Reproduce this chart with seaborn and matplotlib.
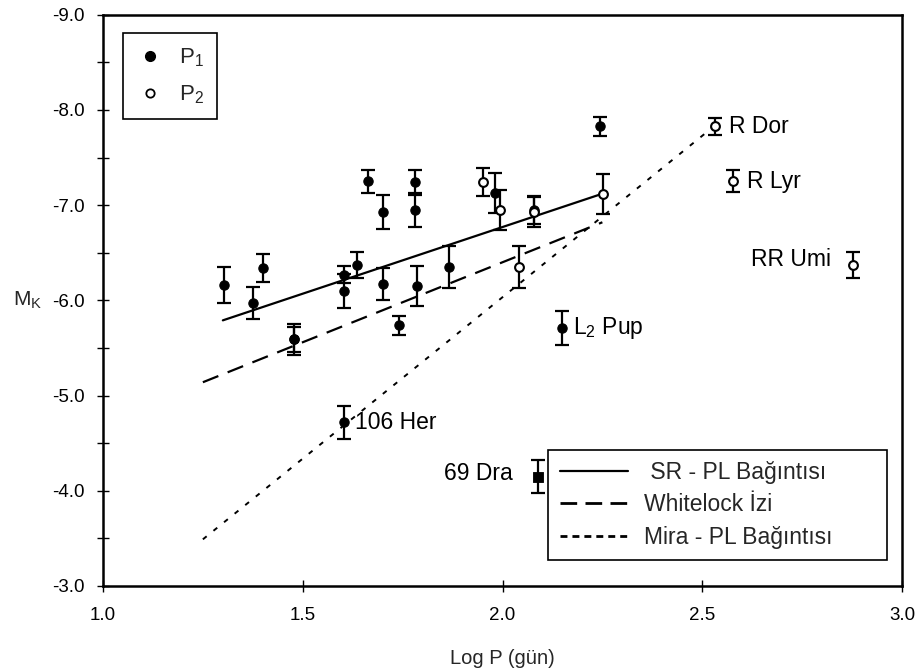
import matplotlib
matplotlib.use("Agg")
import matplotlib.pyplot as plt
from matplotlib.lines import Line2D
import seaborn as sns
import pandas as pd

# ---- data ----
p1_logp = [1.303, 1.375, 1.400, 1.478, 1.478, 1.603, 1.603, 1.637, 1.664, 1.700,
           1.700, 1.741, 1.780, 1.780, 1.787, 1.867, 1.980, 2.080, 2.244, 1.603, 2.148]
p1_mk = [-6.16, -5.97, -6.34, -5.59, -5.59, -6.27, -6.10, -6.37, -7.25, -6.93,
         -6.17, -5.74, -7.24, -6.95, -6.15, -6.35, -7.13, -6.95, -7.83, -4.72, -5.71]
p1_err = [0.19, 0.17, 0.15, 0.16, 0.13, 0.09, 0.18, 0.14, 0.12, 0.18,
          0.17, 0.10, 0.13, 0.18, 0.21, 0.22, 0.21, 0.15, 0.10, 0.175, 0.175]

p2_logp = [1.952, 1.994, 2.080, 2.042, 2.251, 2.532, 2.578, 2.878]
p2_mk = [-7.24, -6.95, -6.93, -6.35, -7.12, -7.83, -7.25, -6.37]
p2_err = [0.145, 0.21, 0.16, 0.22, 0.21, 0.09, 0.115, 0.135]

dra_logp = [2.089]
dra_mk = [-4.15]
dra_err = [0.175]

sr_x = [1.30, 2.25]
sr_y = [-5.79, -7.12]
wl_x = [1.25, 2.25]
wl_y = [-5.14, -6.82]
mira_x = [1.25, 2.53]
mira_y = [-3.49, -7.83]

star_names = ["R Dor", "R Lyr", "RR Umi", "L$_2$ Pup", "106 Her", "69 Dra"]
star_x = [2.532, 2.578, 2.878, 2.148, 1.603, 2.089]
star_y = [-7.83, -7.25, -6.37, -5.71, -4.72, -4.15]

line_labels = [" SR - PL Bağıntısı", "Whitelock İzi", "Mira - PL Bağıntısı"]

# ---- style ----
sns.set_theme(style="ticks")
plt.rcParams["font.family"] = ["Liberation Sans", "DejaVu Sans"]
plt.rcParams["mathtext.fontset"] = "custom"
plt.rcParams["mathtext.rm"] = "Liberation Sans"
plt.rcParams["mathtext.it"] = "Liberation Sans"

fig = plt.figure(figsize=(9.22, 6.72), dpi=100)
ax = fig.add_axes([103 / 922, 1 - 586 / 672, 799 / 922, 571.3 / 672])

ekw = dict(fmt="none", ecolor="black", elinewidth=1.6, capsize=5, capthick=1.6, zorder=2)
ax.errorbar(p1_logp, p1_mk, yerr=p1_err, **ekw)
ax.errorbar(p2_logp, p2_mk, yerr=p2_err, **ekw)
ax.errorbar(dra_logp, dra_mk, yerr=dra_err, **ekw)

df1 = pd.DataFrame({"x": p1_logp, "y": p1_mk})
df2 = pd.DataFrame({"x": p2_logp, "y": p2_mk})
df3 = pd.DataFrame({"x": dra_logp, "y": dra_mk})
sns.scatterplot(data=df1, x="x", y="y", ax=ax, marker="o", s=45, color="black",
                edgecolor="black", linewidth=0.8, zorder=4, legend=False)
sns.scatterplot(data=df2, x="x", y="y", ax=ax, marker="o", s=40, facecolor="white",
                edgecolor="black", linewidth=1.5, zorder=4, legend=False)
sns.scatterplot(data=df3, x="x", y="y", ax=ax, marker="s", s=60, color="black",
                edgecolor="black", zorder=4, legend=False)

ax.plot(sr_x, sr_y, color="black", lw=1.6, zorder=3)
ax.plot(wl_x, wl_y, color="black", lw=1.6, dashes=(7.5, 4.5), zorder=3)
ax.plot(mira_x, mira_y, color="black", lw=1.4, dashes=(2.5, 4.5), zorder=3)

# annotations
offs = [(10, 0, "left"), (10, 0, "left"), (-16, 4, "right"), (8, 0, "left"), (8, 0, "left"), (-18, 2, "right")]
for name, x, y, (dx, dy, ha) in zip(star_names, star_x, star_y, offs):
    ax.annotate(name, (x, y), xytext=(dx, dy), textcoords="offset points",
                ha=ha, va="center", fontsize=16.5, color="black")

ax.set_xlim(1.0, 3.0)
ax.set_ylim(-3.0, -9.0)
ax.set_xticks([1.0, 1.5, 2.0, 2.5, 3.0])
ax.set_xticklabels(["1.0", "1.5", "2.0", "2.5", "3.0"])
ax.set_yticks([-9.0, -8.0, -7.0, -6.0, -5.0, -4.0, -3.0])
ax.set_yticklabels(["-9.0", "-8.0", "-7.0", "-6.0", "-5.0", "-4.0", "-3.0"])
ax.set_yticks([-8.5, -7.5, -6.5, -5.5, -4.5, -3.5], minor=True)
ax.tick_params(axis="both", which="both", direction="inout", length=8, width=1.0,
               labelsize=13.5, colors="black")
ax.tick_params(axis="y", pad=9)
ax.tick_params(axis="x", pad=11)
for s in ax.spines.values():
    s.set_linewidth(1.8)
    s.set_color("black")

ax.set_xlabel("Log P (gün)", fontsize=14.5, labelpad=18)
ax.set_ylabel("M$_K$", fontsize=15, rotation=0, labelpad=18, va="center")

# legend 1 (P1 / P2)
h1 = Line2D([], [], marker="o", color="black", ls="none", markersize=7)
h2 = Line2D([], [], marker="o", markerfacecolor="white", markeredgecolor="black",
            markeredgewidth=1.3, ls="none", markersize=6)
leg1 = ax.legend([h1, h2], ["P$_1$", "P$_2$"], loc="upper left",
                 bbox_to_anchor=(0.025, 0.968), borderaxespad=0, fontsize=16,
                 frameon=True, fancybox=False, edgecolor="black", framealpha=1,
                 labelspacing=0.65, handlelength=1.2, handletextpad=0.7, borderpad=0.6)
leg1.get_frame().set_linewidth(1.2)
ax.add_artist(leg1)

# legend 2 (lines)
hs = [Line2D([], [], color="black", lw=1.6),
      Line2D([], [], color="black", lw=2.0, dashes=(6, 3)),
      Line2D([], [], color="black", lw=2.0, dashes=(2.5, 1.8))]
leg2 = ax.legend(hs, line_labels, loc="lower left",
                 bbox_to_anchor=(0.557, 0.0455, 0.424, 0.196), mode="expand",
                 borderaxespad=0, fontsize=16.5, frameon=True, fancybox=False,
                 edgecolor="black", framealpha=1, handlelength=3.0,
                 labelspacing=0.4, handletextpad=0.7, borderpad=0.5)
leg2.get_frame().set_linewidth(1.2)

fig.savefig("out.png", dpi=100, facecolor="white")
